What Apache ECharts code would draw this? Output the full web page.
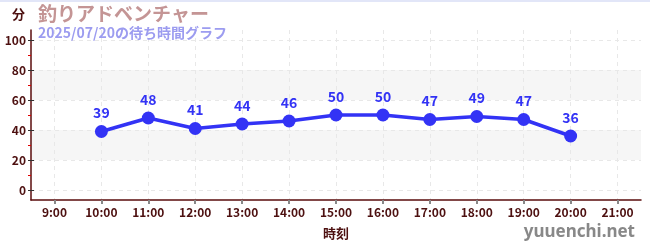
<!DOCTYPE html>
<html>
<head>
<meta charset="utf-8">
<script src="https://cdn.jsdelivr.net/npm/echarts@6/dist/echarts.min.js"></script>
<style>
  html, body { margin: 0; padding: 0; background: #fff; }
  #chart { width: 650px; height: 250px; border-top: 2px solid #e2e6f8; box-sizing: border-box; }
</style>
</head>
<body>
<div id="chart"></div>
<script>
// Chart data
const hours = ['9:00', '10:00', '11:00', '12:00', '13:00', '14:00', '15:00', '16:00', '17:00', '18:00', '19:00', '20:00', '21:00'];
const waitMinutes = [null, 39, 48, 41, 44, 46, 50, 50, 47, 49, 47, 36, null];
const yTicks = [0, 20, 40, 60, 80, 100];
const yMinorTicks = [10, 30, 50, 70, 90];

const titleText = '釣りアドベンチャー';
const subText = '2025/07/20の待ち時間グラフ';

const axisColor = '#5a0c0c';
const labelColor = '#4d1010';
const lineColor = '#3333f5';

const chart = echarts.init(document.getElementById('chart'));

const yMin = -20 / 3;
const yMax = 320 / 3;

// x positions are category indexes, so split lines sit on the hours
const hourIndex = hours.map((h, i) => i);
const points = waitMinutes.map((v, i) => [i, v]);

const option = {
    animation: false,
    textStyle: { fontFamily: '"Noto Sans CJK JP", "Noto Sans", sans-serif' },
    title: {
        text: titleText,
        subtext: subText,
        left: 33,
        top: -3,
        itemGap: 3,
        textStyle: { color: '#c49595', fontSize: 19, fontWeight: 'bold' },
        subtextStyle: { color: '#9c9cf0', fontSize: 14, fontWeight: 'bold' }
    },
    graphic: [{
        type: 'text',
        right: 15,
        bottom: 9,
        style: { text: 'yuuenchi.net', fill: '#888', fontSize: 17, fontWeight: 'bold', fontFamily: '"Noto Sans", sans-serif' }
    }, {
        type: 'text',
        left: 12,
        top: 6,
        style: { text: '分', fill: labelColor, fontSize: 13, fontWeight: 'bold', fontFamily: '"Noto Sans CJK JP", sans-serif' }
    }],
    grid: { left: 31, right: 9, top: 28, bottom: 50 },
    xAxis: {
        type: 'value',
        min: -0.5,
        max: hours.length - 0.5,
        name: '時刻',
        nameLocation: 'middle',
        nameGap: 27,
        nameTextStyle: { color: labelColor, fontSize: 13, fontWeight: 'bold' },
        axisLine: { onZero: false, lineStyle: { color: axisColor, width: 1.5 } },
        axisTick: { length: 4, customValues: hourIndex, lineStyle: { color: '#888', width: 2 } },
        axisLabel: {
            color: labelColor, fontSize: 12, fontWeight: 'bold', margin: 6,
            customValues: hourIndex,
            formatter: v => hours[Math.round(v)]
        },
        splitLine: { show: true, lineStyle: { color: '#e8e8e8', type: [4, 4] } }
    },
    yAxis: [{
        type: 'value',
        min: yMin,
        max: yMax,
        axisLine: { show: true, onZero: false, lineStyle: { color: axisColor, width: 1.5 } },
        axisTick: { show: true, length: 3, customValues: yTicks, lineStyle: { color: '#333' } },
        axisLabel: { color: labelColor, fontSize: 12, fontWeight: 'bold', margin: 5, customValues: yTicks },
        splitLine: { show: true, lineStyle: { color: '#e8e8e8', type: [4, 4] } },
        splitArea: { show: true, areaStyle: { color: ['rgba(0,0,0,0)', '#f6f6f6'] } }
    }, {
        type: 'value',
        min: yMin,
        max: yMax,
        position: 'left',
        axisLine: { show: false, onZero: false },
        axisTick: { show: true, length: 3, customValues: yMinorTicks, lineStyle: { color: '#e00000' } },
        axisLabel: { show: false },
        splitLine: { show: false }
    }, {
        type: 'value',
        min: yMin,
        max: yMax,
        position: 'left',
        axisLine: { show: false, onZero: false },
        axisTick: { show: true, inside: true, length: 3, customValues: yTicks, lineStyle: { color: '#333' } },
        axisLabel: { show: false },
        splitLine: { show: false }
    }],
    series: [{
        name: '待ち時間',
        type: 'line',
        data: points,
        connectNulls: false,
        symbol: 'circle',
        symbolSize: 13,
        lineStyle: { color: lineColor, width: 3.5 },
        itemStyle: { color: lineColor },
        label: {
            show: true,
            position: 'top',
            distance: 5,
            color: lineColor,
            fontSize: 14,
            fontWeight: 'bold',
            formatter: p => p.value[1]
        }
    }]
};

chart.setOption(option);
</script>
</body>
</html>
